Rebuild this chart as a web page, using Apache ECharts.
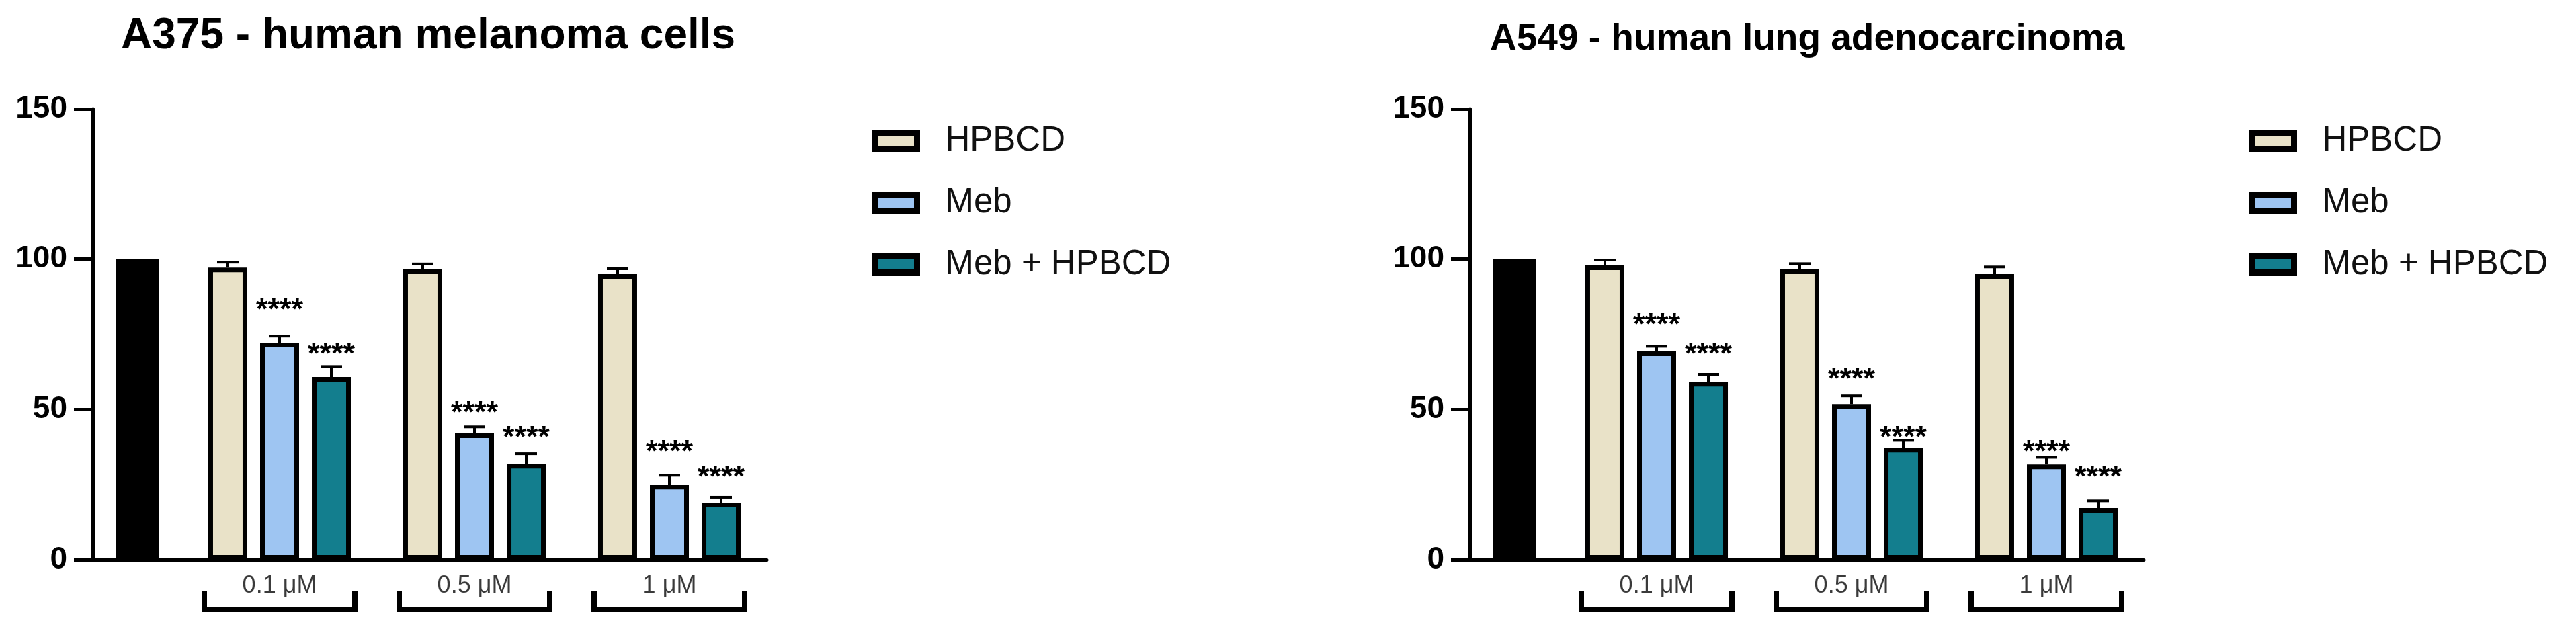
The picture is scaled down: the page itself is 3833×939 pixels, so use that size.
<!DOCTYPE html>
<html>
<head>
<meta charset="utf-8">
<script src="https://cdn.jsdelivr.net/npm/echarts@6/dist/echarts.min.js"></script>
<style>
  html, body { margin: 0; padding: 0; background: #ffffff; }
  #chart { width: 3833px; height: 939px; }
</style>
</head>
<body>
<div id="chart"></div>
<script>
// ---------------- data ----------------
const groups = ['0.1 μM', '0.5 μM', '1 μM'];
const controlLabel = ['Control'];
const seriesNames = ['HPBCD', 'Meb', 'Meb + HPBCD'];
const yTicks = [0, 50, 100, 150];
const sigText = '****';

// A375 - human melanoma cells
const a375Title = 'A375 - human melanoma cells';
const a375Control = [100];
const a375HPBCD = [97.2, 96.8, 95.0];
const a375HPBCDsem = [1.8, 1.6, 1.8];
const a375Meb = [72.2, 42.0, 25.0];
const a375MebSem = [2.2, 2.2, 3.1];
const a375MebSig = [85.2, 51.0, 38.0];
const a375MebHP = [60.8, 31.9, 19.0];
const a375MebHPsem = [3.5, 3.4, 1.8];
const a375MebHPSig = [70.6, 42.9, 29.5];

// A549 - human lung adenocarcinoma
const a549Title = 'A549 - human lung adenocarcinoma';
const a549Control = [100];
const a549HPBCD = [97.9, 96.8, 95.0];
const a549HPBCDsem = [1.8, 1.7, 2.4];
const a549Meb = [69.3, 51.8, 31.7];
const a549MebSem = [1.7, 2.7, 2.4];
const a549MebSig = [80.3, 62.2, 38.0];
const a549MebHP = [59.2, 37.3, 17.2];
const a549MebHPsem = [2.5, 2.4, 2.4];
const a549MebHPSig = [70.6, 42.9, 29.5];

// ---------------- styles ----------------
const FONT = "'Liberation Sans', Arial, Helvetica, sans-serif";
const COLORS = ['#E9E2C8', '#9EC5F2', '#137E8E'];
const BAR_W = 58, BAR_BORDER = 7, BAR_PITCH = 77;

const chart = echarts.init(document.getElementById('chart'));

const grids = [], xAxes = [], yAxes = [], series = [], titles = [], legends = [];

function errorRenderer(slot) {
  return function (params, api) {
    const x = api.value(0), m = api.value(1), s = api.value(2), sig = api.value(3);
    const base = api.coord([x, m]);
    const top = api.coord([x, m + s]);
    const cx = base[0] + (slot - 1) * BAR_PITCH;
    const children = [
      { type: 'line', shape: { x1: cx, y1: base[1], x2: cx, y2: top[1] }, style: { stroke: '#000', lineWidth: 4 } },
      { type: 'line', shape: { x1: cx - 16, y1: top[1], x2: cx + 16, y2: top[1] }, style: { stroke: '#000', lineWidth: 4 } }
    ];
    if (sig > 0) {
      const p = api.coord([x, sig]);
      children.push({
        type: 'text', x: cx, y: p[1] + 11,
        style: { text: sigText, fontSize: 45, fontWeight: 'bold', fill: '#000', align: 'center', verticalAlign: 'middle', fontFamily: FONT }
      });
    }
    return { type: 'group', children: children };
  };
}

function bracketRenderer(params, api) {
  const c = api.coord([api.value(0), 0]);
  const half = 112;
  return {
    type: 'polyline',
    shape: { points: [[c[0] - half, c[1] + 47], [c[0] - half, c[1] + 74], [c[0] + half, c[1] + 74], [c[0] + half, c[1] + 47]] },
    style: { stroke: '#000', lineWidth: 8, fill: null, lineJoin: 'miter', lineCap: 'butt' }
  };
}

function addPanel(cfg) {
  const gi = grids.length;
  grids.push({ left: cfg.axisX, top: 162, width: 133, height: 671 });
  grids.push({ left: cfg.axisX + 133, top: 162, width: 870, height: 671 });

  const axisLine = { show: true, lineStyle: { color: '#000', width: 5 } };
  xAxes.push({ gridIndex: gi, type: 'category', data: controlLabel, axisLine: axisLine, axisTick: { show: false }, axisLabel: { show: false } });
  xAxes.push({ gridIndex: gi + 1, type: 'category', data: groups, axisLine: axisLine, axisTick: { show: false },
    axisLabel: { fontSize: 36, color: '#3a3a3a', margin: 21, fontFamily: FONT } });
  yAxes.push({ gridIndex: gi, type: 'value', min: yTicks[0], max: yTicks[yTicks.length - 1], interval: yTicks[1] - yTicks[0],
    axisLine: axisLine, axisTick: { show: true, length: 28, lineStyle: { color: '#000', width: 5 } },
    axisLabel: { fontSize: 46, fontWeight: 'bold', color: '#000', margin: 38, fontFamily: FONT },
    splitLine: { show: false } });
  yAxes.push({ gridIndex: gi + 1, type: 'value', min: yTicks[0], max: yTicks[yTicks.length - 1], show: false, splitLine: { show: false } });

  series.push({ type: 'bar', name: 'Control', xAxisIndex: gi, yAxisIndex: gi, data: cfg.control, barWidth: 65,
    itemStyle: { color: '#000' }, silent: true });

  cfg.values.forEach(function (vals, k) {
    series.push({ type: 'bar', name: seriesNames[k], xAxisIndex: gi + 1, yAxisIndex: gi + 1, data: vals,
      barWidth: BAR_W, barGap: ((BAR_PITCH - BAR_W) / BAR_W * 100).toFixed(1) + '%',
      itemStyle: { color: COLORS[k], borderColor: '#000', borderWidth: BAR_BORDER }, silent: true });
  });
  cfg.values.forEach(function (vals, k) {
    const rows = vals.map(function (v, i) {
      const row = [i, v, cfg.sems[k][i]];
      if (cfg.sigs[k]) row.push(cfg.sigs[k][i]);
      return row;
    });
    series.push({ type: 'custom', name: seriesNames[k] + ' SEM', xAxisIndex: gi + 1, yAxisIndex: gi + 1, z: 5, clip: false,
      data: rows, renderItem: errorRenderer(k), silent: true });
  });
  series.push({ type: 'custom', name: 'brackets', xAxisIndex: gi + 1, yAxisIndex: gi + 1, clip: false, silent: true,
    data: groups.map(function (g, i) { return [i]; }), renderItem: bracketRenderer });

  titles.push({ text: cfg.title, left: cfg.titleX, top: cfg.titleTop, padding: 0,
    textStyle: { fontSize: cfg.titleSize, fontWeight: 'bold', color: '#000', fontFamily: FONT } });
  legends.push({ data: seriesNames, left: cfg.legendX, top: 184, orient: 'vertical', padding: 0, icon: 'rect',
    itemWidth: 62, itemHeight: 24, itemGap: 41, selectedMode: false,
    itemStyle: { borderColor: '#000', borderWidth: 9 },
    textStyle: { fontSize: 51, color: '#111', lineHeight: 50, padding: [0, 0, 0, 37], fontFamily: FONT } });
}

addPanel({ axisX: 138, title: a375Title, titleX: 180, titleTop: 22, titleSize: 64, legendX: 1298,
  control: a375Control, values: [a375HPBCD, a375Meb, a375MebHP],
  sems: [a375HPBCDsem, a375MebSem, a375MebHPsem], sigs: [null, a375MebSig, a375MebHPSig] });
addPanel({ axisX: 2187, title: a549Title, titleX: 2217, titleTop: 31, titleSize: 55, legendX: 3347,
  control: a549Control, values: [a549HPBCD, a549Meb, a549MebHP],
  sems: [a549HPBCDsem, a549MebSem, a549MebHPsem], sigs: [null, a549MebSig, a549MebHPSig] });

chart.setOption({
  backgroundColor: '#ffffff',
  animation: false,
  title: titles,
  legend: legends,
  grid: grids,
  xAxis: xAxes,
  yAxis: yAxes,
  series: series
});
</script>
</body>
</html>
